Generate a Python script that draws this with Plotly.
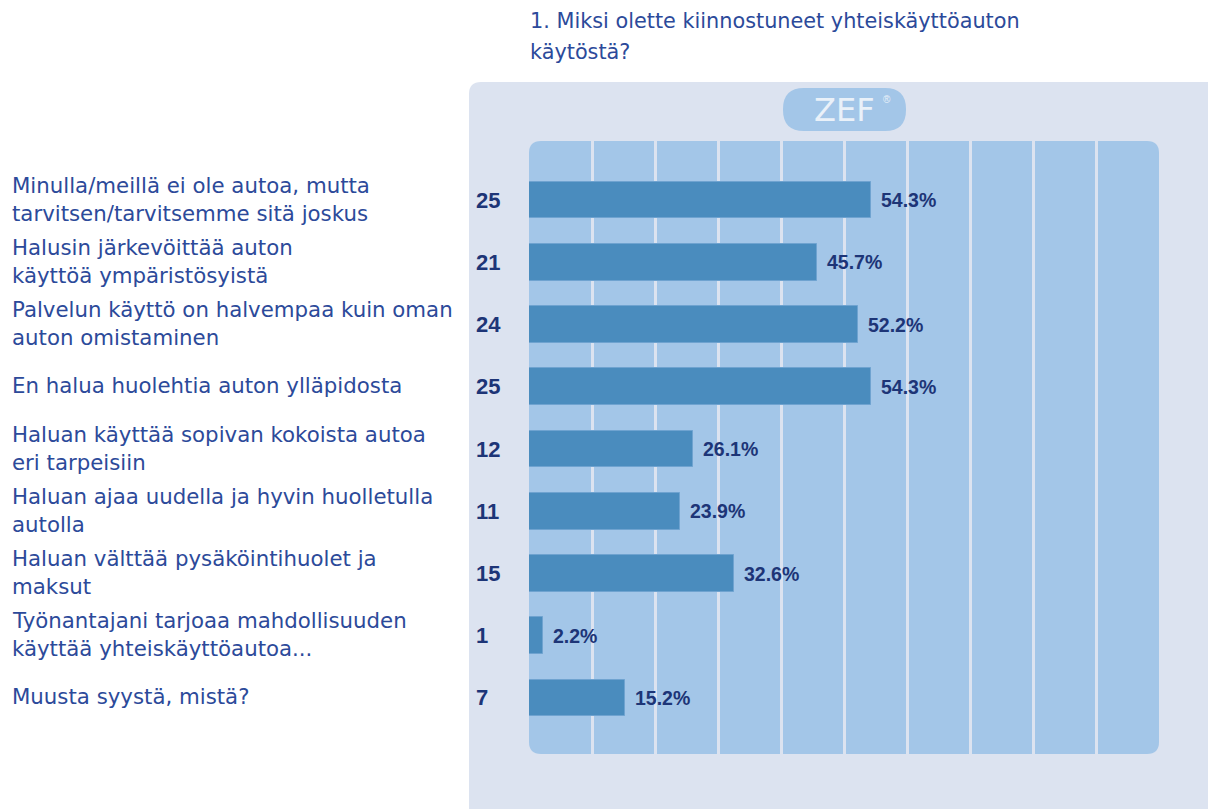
import plotly.graph_objects as go

# The page body adds an 8px margin, so the figure is laid out 8px in.
OFF = 8
W, H = 1216 - OFF, 809 - OFF

title_lines = ["1. Miksi olette kiinnostuneet yhteiskäyttöauton", "käytöstä?"]
categories = [
    ["Minulla/meillä ei ole autoa, mutta", "tarvitsen/tarvitsemme sitä joskus"],
    ["Halusin järkevöittää auton", "käyttöä ympäristösyistä"],
    ["Palvelun käyttö on halvempaa kuin oman", "auton omistaminen"],
    ["En halua huolehtia auton ylläpidosta"],
    ["Haluan käyttää sopivan kokoista autoa", "eri tarpeisiin"],
    ["Haluan ajaa uudella ja hyvin huolletulla", "autolla"],
    ["Haluan välttää pysäköintihuolet ja", "maksut"],
    ["Työnantajani tarjoaa mahdollisuuden", "käyttää yhteiskäyttöautoa..."],
    ["Muusta syystä, mistä?"],
]
counts = [25, 21, 24, 25, 12, 11, 15, 1, 7]
percents = [54.3, 45.7, 52.2, 54.3, 26.1, 23.9, 32.6, 2.2, 15.2]

FONT = "DejaVu Sans, Verdana, sans-serif"
BOLD = "Liberation Sans, Arial, sans-serif"
TEXT_COLOR = "#2c4a9a"
DARK = "#1d3577"
OUTER = "#dce3f0"
INNER = "#a3c6e8"
BAR = "#4a8cbe"

def px(x):
    return (x - OFF) / W

def py(y):
    return 1 - (y - OFF) / H

def rounded(x0, y0, x1, y1, r):
    pts = [
        f"M {px(x0 + r)} {py(y0)}",
        f"L {px(x1 - r)} {py(y0)}",
        f"Q {px(x1)} {py(y0)} {px(x1)} {py(y0 + r)}",
        f"L {px(x1)} {py(y1 - r)}",
        f"Q {px(x1)} {py(y1)} {px(x1 - r)} {py(y1)}",
        f"L {px(x0 + r)} {py(y1)}",
        f"Q {px(x0)} {py(y1)} {px(x0)} {py(y1 - r)}",
        f"L {px(x0)} {py(y0 + r)}",
        f"Q {px(x0)} {py(y0)} {px(x0 + r)} {py(y0)}",
        "Z",
    ]
    return " ".join(pts)

PL, PR, PT, PB = 529, 1159, 141, 754
n = len(categories)
ypos = list(range(n))

fig = go.Figure()
fig.add_trace(go.Bar(
    x=percents, y=ypos, orientation="h", width=0.59,
    marker=dict(color=BAR, line=dict(color="#6fa3d0", width=1)),
    hoverinfo="skip", showlegend=False,
))

shapes = [
    dict(type="path", xref="paper", yref="paper", path=rounded(469, 82, 1240, 840, 12),
         fillcolor=OUTER, line=dict(width=0), layer="below"),
    dict(type="path", xref="paper", yref="paper", path=rounded(PL, PT, PR, PB, 12),
         fillcolor=INNER, line=dict(width=0), layer="below"),
    dict(type="path", xref="paper", yref="paper", path=rounded(783, 88, 906, 131, 21),
         fillcolor=INNER, line=dict(width=0), layer="below"),
]

annotations = []
for i, line in enumerate(title_lines):
    annotations.append(dict(xref="paper", yref="paper", x=px(528), y=py(21 + 31 * i),
                            text=line, showarrow=False, xanchor="left", yanchor="middle",
                            font=dict(family=FONT, size=20.8, color=TEXT_COLOR)))

for i, lines in enumerate(categories):
    k = len(lines)
    for j, line in enumerate(lines):
        annotations.append(dict(xref="paper", yref="y", x=px(10), y=i,
                                yshift=-(j - (k - 1) / 2) * 28 + 1,
                                text=line, showarrow=False, xanchor="left", yanchor="middle",
                                font=dict(family=FONT, size=21.3, color=TEXT_COLOR)))
    annotations.append(dict(xref="paper", yref="y", x=px(474), y=i, text=f"<b>{counts[i]}</b>",
                            showarrow=False, xanchor="left", yanchor="middle",
                            font=dict(family=BOLD, size=22, color=DARK)))
    annotations.append(dict(xref="x", yref="y", x=percents[i], y=i, xshift=8,
                            text=f"<b>{percents[i]:.1f}%</b>",
                            showarrow=False, xanchor="left", yanchor="middle",
                            font=dict(family=BOLD, size=19.5, color=DARK)))

annotations.append(dict(xref="paper", yref="paper", x=px(844), y=py(110), text="ZEF",
                        showarrow=False, xanchor="center", yanchor="middle",
                        font=dict(family="DejaVu Sans, sans-serif", size=32, color="#eaf1f9")))
annotations.append(dict(xref="paper", yref="paper", x=px(887), y=py(99), text="®",
                        showarrow=False, xanchor="center", yanchor="middle",
                        font=dict(family=BOLD, size=10, color="#eaf1f9")))

fig.update_layout(
    width=W, height=H,
    margin=dict(l=0, r=0, t=0, b=0),
    paper_bgcolor="white", plot_bgcolor="rgba(0,0,0,0)",
    shapes=shapes, annotations=annotations,
    xaxis=dict(domain=[px(PL), px(PR)], range=[0, 100], tickvals=[10, 20, 30, 40, 50, 60, 70, 80, 90],
               showticklabels=False, showgrid=True, gridcolor=OUTER, gridwidth=3,
               zeroline=False, showline=False, ticks="", fixedrange=True),
    yaxis=dict(domain=[py(PB), py(PT)], range=[n - 1 + 0.9, -0.95], showticklabels=False,
               showgrid=False, zeroline=False, showline=False, ticks="", fixedrange=True),
    bargap=0,
)

fig.write_html("out.html")
